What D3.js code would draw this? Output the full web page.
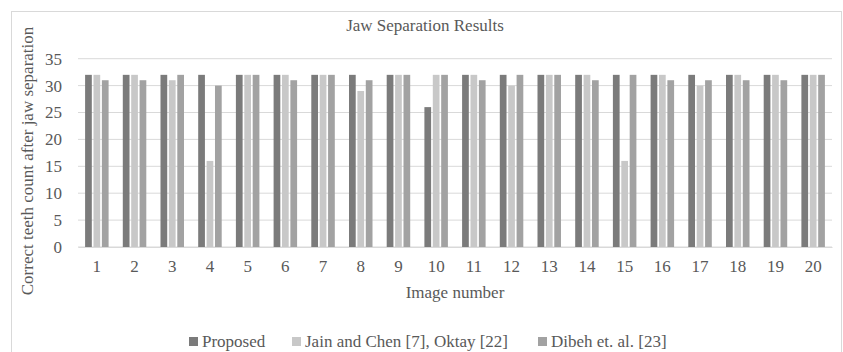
<!DOCTYPE html>
<html><head><meta charset="utf-8">
<script src="https://cdn.jsdelivr.net/npm/d3@7"></script>
<style>body{margin:0;background:#fff}svg{display:block}text{font-family:"Liberation Serif","Times New Roman",serif;fill:#595959}</style>
</head><body><svg id="c" width="843" height="352"></svg>
<script>
const categories = ["1","2","3","4","5","6","7","8","9","10","11","12","13","14","15","16","17","18","19","20"];
const seriesNames = ["Proposed","Jain and Chen [7], Oktay [22]","Dibeh et. al. [23]"];
const proposed = [32,32,32,32,32,32,32,32,32,26,32,32,32,32,32,32,32,32,32,32];
const jainOktay = [32,32,31,16,32,32,32,29,32,32,32,30,32,32,16,32,30,32,32,32];
const dibeh = [31,31,32,30,32,31,32,31,32,32,31,32,32,31,32,31,31,31,31,32];
const yTicks = [0,5,10,15,20,25,30,35];
const colors = ["#7b7b7b","#c8c8c8","#a2a2a2"];
const seriesValues = [proposed, jainOktay, dibeh];
const FS = "17px";

const svg = d3.select("#c");
svg.append("rect").attr("x",11.5).attr("y",11.5).attr("width",830).attr("height",350)
  .attr("fill","none").attr("stroke","#d9d9d9");

const L=78, R=832, T=58.7, B=247;
const x0 = d3.scaleBand().domain(categories).range([L,R]);
const bw = x0.bandwidth();
const x1 = d3.scaleBand().domain(d3.range(3)).range([(bw-23.5)/2,(bw+23.5)/2]).paddingInner(0.2);
const y = d3.scaleLinear().domain([0,35]).range([B,T]);

svg.append("g").selectAll("line").data(yTicks).join("line")
  .attr("x1",L).attr("x2",R).attr("y1",d=>y(d)).attr("y2",d=>y(d))
  .attr("stroke","#d9d9d9").attr("stroke-width",1);

const yAxis = d3.axisLeft(y).tickValues(yTicks).tickSize(0).tickPadding(0);
const gy = svg.append("g").attr("transform",`translate(${L-16},0)`).call(yAxis);
gy.select(".domain").remove();
gy.selectAll("text").style("font-size",FS).attr("fill","#595959");

const groups = svg.append("g").selectAll("g").data(categories).join("g")
  .attr("transform",d=>`translate(${x0(d)},0)`);
groups.selectAll("rect").data((d,i)=>seriesValues.map((s,k)=>({k,v:s[i]}))).join("rect")
  .attr("x",d=>x1(d.k)).attr("width",x1.bandwidth())
  .attr("y",d=>y(d.v)).attr("height",d=>y(0)-y(d.v))
  .attr("fill",d=>colors[d.k]);

const xAxis = d3.axisBottom(x0).tickSize(0).tickPadding(0);
const gx = svg.append("g").attr("transform",`translate(0,${B})`).call(xAxis);
gx.select(".domain").attr("stroke","#d9d9d9");
gx.selectAll("text").style("font-size",FS).attr("fill","#595959")
  .attr("dy",null).attr("y",25);

svg.append("text").attr("x",425).attr("y",31).attr("text-anchor","middle").style("font-size",FS).text("Jaw Separation Results");
svg.append("text").attr("x",(L+R)/2).attr("y",298).attr("text-anchor","middle").style("font-size",FS).text("Image number");
svg.append("text").attr("transform","translate(33,161) rotate(-90)").attr("text-anchor","middle").style("font-size",FS).text("Correct teeth count after jaw separation");

const legX = [189, 292, 538];
const lg = svg.append("g").selectAll("g").data(seriesNames).join("g")
  .attr("transform",(d,i)=>`translate(${legX[i]},0)`);
lg.append("rect").attr("x",0).attr("y",337).attr("width",9).attr("height",9).attr("fill",(d,i)=>colors[i]);
lg.append("text").attr("x",13).attr("y",347).style("font-size",FS).text(d=>d);
</script></body></html>
